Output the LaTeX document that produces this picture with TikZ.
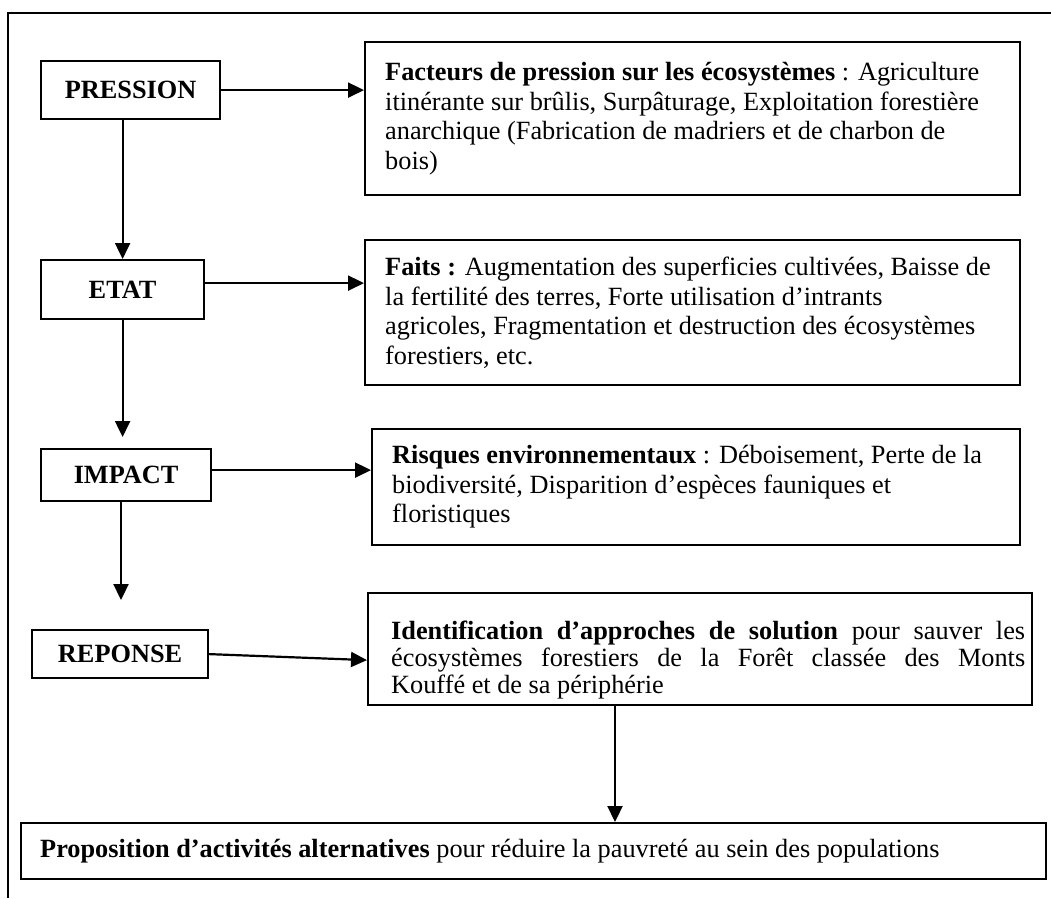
\documentclass[tikz,border=0pt]{standalone}
\usepackage{fontspec}
\setmainfont{Liberation Serif}
\usetikzlibrary{arrows.meta}
\newcommand\bodyfont{\fontsize{26.3pt}{29.5pt}\selectfont}
\begin{document}
\begin{tikzpicture}[x=1pt,y=-1pt,
  box/.style={draw, line width=2.2pt, inner sep=0pt, anchor=north west},
  lbl/.style={box, font=\bodyfont\bfseries},
  txt/.style={inner sep=0pt, anchor=west, align=left, font=\bodyfont},
  arr/.style={line width=2.2pt, -{Triangle[length=16pt,width=15pt]}},
  frame/.style={line width=2pt}]
\useasboundingbox (0,0) rectangle (1051,898);
\draw[frame] (8,898) -- (8,13) -- (1051,13);

\node[lbl, minimum width=179pt, minimum height=58pt] (pression) at (40,60) {PRESSION};
\node[lbl, minimum width=163pt, minimum height=59pt] (etat) at (40,259) {ETAT};
\node[lbl, minimum width=170pt, minimum height=52pt] (impact) at (40,448) {IMPACT};
\node[lbl, minimum width=176pt, minimum height=48pt] (reponse) at (31,629) {REPONSE};

\node[box, minimum width=655pt, minimum height=153pt] (fbox) at (364,41) {};
\node[txt, xshift=21pt] (ftxt) at (fbox.west) {\textbf{Facteurs de pression sur les écosystèmes} : Agriculture\\ itinérante sur brûlis, Surpâturage, Exploitation forestière\\ anarchique (Fabrication de madriers et de charbon de\\ bois)};

\node[box, minimum width=655pt, minimum height=145pt] (ebox) at (364,239) {};
\node[txt, xshift=21pt] (etxt) at (ebox.west) {\textbf{Faits :} Augmentation des superficies cultivées, Baisse de\\ la fertilité des terres, Forte utilisation d’intrants\\ agricoles, Fragmentation et destruction des écosystèmes\\ forestiers, etc.};

\node[box, minimum width=648pt, minimum height=116pt] (rbox) at (371,428) {};
\node[txt, xshift=21pt] (rtxt) at (rbox.west) {\textbf{Risques environnementaux} : Déboisement, Perte de la\\ biodiversité, Disparition d’espèces fauniques et\\ floristiques};

\node[box, minimum width=664pt, minimum height=112pt] (ibox) at (367,592) {};
\node[txt, xshift=24pt, yshift=-11pt, font=\fontsize{26.3pt}{27pt}\selectfont] (itxt) at (ibox.west) {\makebox[634pt][s]{\textbf{Identification d’approches de solution} pour sauver les}\\ \makebox[634pt][s]{écosystèmes forestiers de la Forêt classée des Monts}\\ Kouffé et de sa périphérie};

\node[box, minimum width=1025pt, minimum height=56pt] (pbox) at (20,822) {};
\node[txt, xshift=20pt] (ptxt) at (pbox.west) {\textbf{Proposition d’activités alternatives} pour réduire la pauvreté au sein des populations};

\coordinate (rfree) at (121,600);
\coordinate (dx) at (615,0);

\draw[arr] (pression.east) -- (pression.east -| fbox.west);
\draw[arr] ([yshift=6.5pt]etat.east) -- ([yshift=6.5pt]etat.east -| ebox.west);
\draw[arr] ([yshift=5pt]impact.east) -- ([yshift=5pt]impact.east -| rbox.west);
\draw[arr] (reponse.east) -- ([yshift=-11pt]ibox.west);
\draw[arr] (pression.south -| etat.north) -- (etat.north);
\draw[arr] (etat.south) -- ([yshift=11pt]etat.south |- impact.north);
\draw[arr] (impact.south -| rfree) -- (rfree);
\draw[arr] (ibox.south -| dx) -- (pbox.north -| dx);
\end{tikzpicture}
\end{document}
